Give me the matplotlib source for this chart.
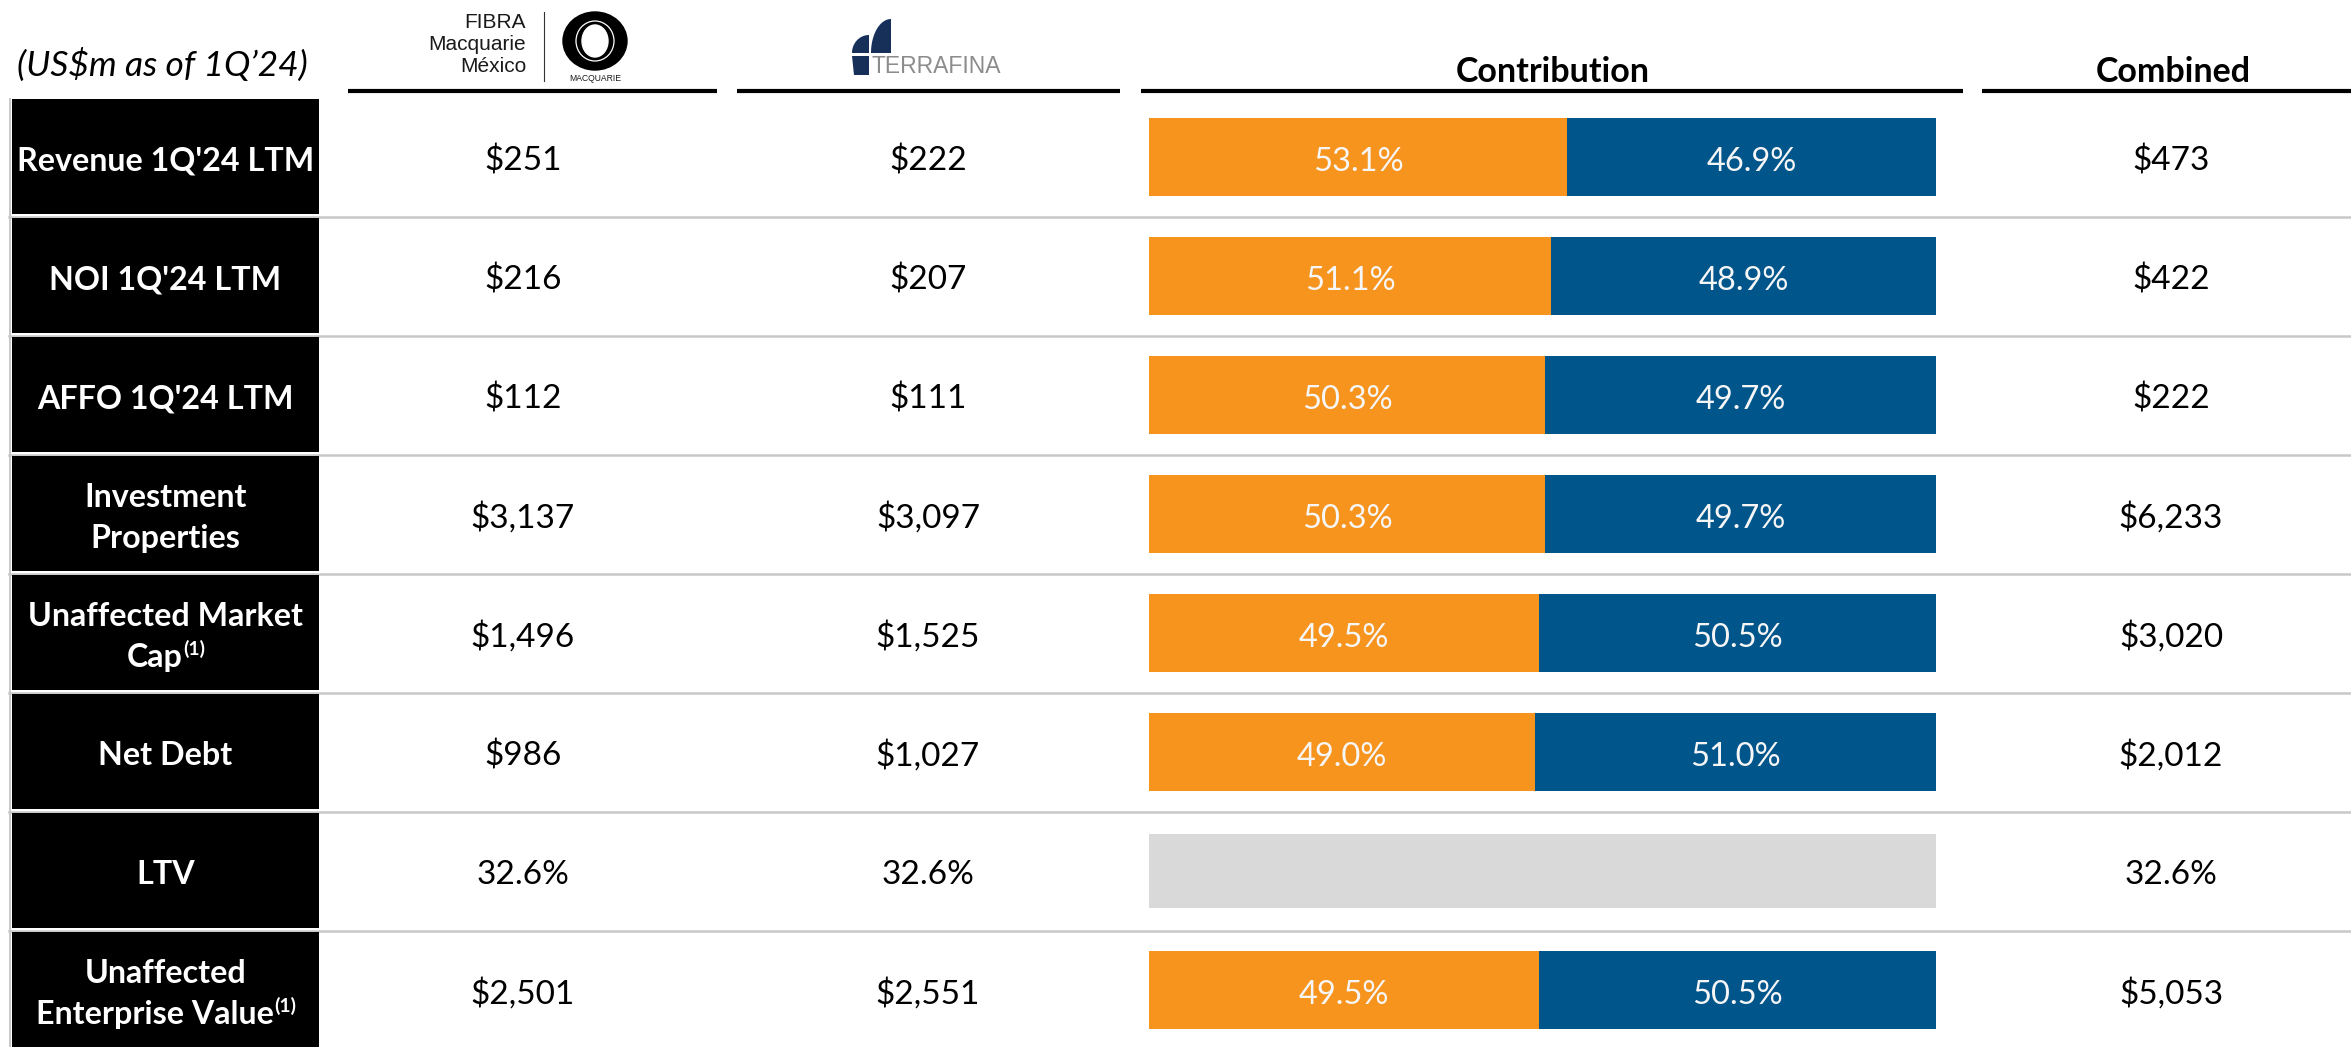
import matplotlib
matplotlib.use("Agg")
import matplotlib.pyplot as plt
from matplotlib import font_manager, transforms
from matplotlib.patches import Rectangle, Polygon, Ellipse
import numpy as np

# ---------------- data ----------------
metrics = ["Revenue 1Q'24 LTM", "NOI 1Q'24 LTM", "AFFO 1Q'24 LTM",
           "Investment\nProperties", "Unaffected Market\nCap", "Net Debt",
           "LTV", "Unaffected\nEnterprise Value"]
footnote = [False, False, False, False, True, False, False, True]
fibra_values = ["$251", "$216", "$112", "$3,137", "$1,496", "$986", "32.6%", "$2,501"]
terrafina_values = ["$222", "$207", "$111", "$3,097", "$1,525", "$1,027", "32.6%", "$2,551"]
combined_values = ["$473", "$422", "$222", "$6,233", "$3,020", "$2,012", "32.6%", "$5,053"]
fibra_share = [53.1, 51.1, 50.3, 50.3, 49.5, 49.0, None, 49.5]
terrafina_share = [46.9, 48.9, 49.7, 49.7, 50.5, 51.0, None, 50.5]
title_text = "(US$m as of 1Q\u201924)"
col_headers = ["Contribution", "Combined"]

# ---------------- style ----------------
available = {f.name for f in font_manager.fontManager.ttflist}
BODY = "Lato" if "Lato" in available else "DejaVu Sans"
NARROW = "Liberation Sans Narrow" if "Liberation Sans Narrow" in available else "Liberation Sans"
LOGO = "Liberation Sans" if "Liberation Sans" in available else "DejaVu Sans"
plt.rcParams["font.family"] = [BODY, "DejaVu Sans"]

ORANGE = "#F7941E"
BLUE = "#00558B"
GRAY_BAR = "#D9D9D9"
SEP = "#C8C8C8"
NAVY = "#17305A"

FS_LABEL = 23.2
FS_VALUE = 24
FS_PCT = 23.5
FS_HEAD = 24.5
FS_TITLE = 25.5


def cap(fs):
    return 0.7165 * fs * 100 / 72


W, H = 2351, 1047
fig = plt.figure(figsize=(W / 100, H / 100), dpi=100)
ax = fig.add_axes([0, 0, 1, 1])
ax.set_xlim(0, W)
ax.set_ylim(H, 0)
ax.axis("off")

ROW_TOP, ROW_H = 99, 119
n = len(metrics)
row_center = [ROW_TOP + ROW_H * (i + 0.5) for i in range(n)]

COL_FIBRA, COL_TERRA, COL_COMB = 523, 928, 2171
LABEL_X0, LABEL_X1 = 12, 319
LABEL_CX = (LABEL_X0 + LABEL_X1) / 2

# header rules
for x0, x1 in [(348, 717), (737, 1120), (1141, 1963), (1982, 2351)]:
    ax.plot([x0, x1], [91, 91], color="black", lw=3.0, solid_capstyle="butt")

ax.text(17, 76, title_text, fontsize=FS_TITLE, style="italic", ha="left", va="baseline")
ax.text(1553, 82, col_headers[0], fontsize=FS_HEAD, weight="bold", ha="center", va="baseline")
ax.text(2173, 82, col_headers[1], fontsize=FS_HEAD, weight="bold", ha="center", va="baseline")

# ---- FIBRA Macquarie logo ----
for txt, yb in [("FIBRA", 28), ("Macquarie", 50), ("México", 72)]:
    ax.text(526, yb, txt, fontsize=15, family=LOGO, color="#1a1a1a",
            ha="right", va="baseline")
ax.plot([544, 544], [12, 81], color="#333333", lw=0.8)
ax.add_patch(Ellipse((595, 41), 64, 58, color="black"))
ax.add_patch(Ellipse((595, 41), 38, 40, fill=False, ec="white", lw=0.9))
ax.add_patch(Ellipse((595, 41), 26, 32, color="white"))
ax.text(595, 81, "MACQUARIE", fontsize=6.2, family=LOGO, ha="center", va="baseline",
        color="#1a1a1a")


# ---- Terrafina logo ----
def quarter_ul(cx, cy, rx, ry):
    t = np.linspace(0, np.pi / 2, 40)
    pts = [(cx, cy)] + [(cx - rx * np.cos(a), cy - ry * np.sin(a)) for a in t]
    return Polygon(pts, closed=True, color=NAVY, lw=0)


ax.add_patch(quarter_ul(891, 53, 20, 34))
ax.add_patch(quarter_ul(869, 53, 17, 18))
ax.add_patch(Polygon([(852, 56), (869, 56), (869, 75), (854, 75)], closed=True, color=NAVY, lw=0))
ax.text(872, 73, "TERRAFINA", fontsize=16.5, family=NARROW, color="#8C8C8C",
        ha="left", va="baseline")

# ---- row separators and label boxes ----
for k in range(1, n):
    y = ROW_TOP + ROW_H * k - 1.5
    ax.plot([9, W], [y, y], color=SEP, lw=1.8, zorder=1)
ax.plot([9.5, 9.5], [ROW_TOP, H], color=SEP, lw=1.4, zorder=1)

for i in range(n):
    top = ROW_TOP + ROW_H * i
    ax.add_patch(Rectangle((LABEL_X0, top), LABEL_X1 - LABEL_X0, ROW_H - 4,
                           color="black", lw=0, zorder=2))

fig.canvas.draw()
renderer = fig.canvas.get_renderer()

MAXW = 298
for i, (lab, fn) in enumerate(zip(metrics, footnote)):
    cy = row_center[i]
    lines = lab.split("\n")
    offs = [0] if len(lines) == 1 else [-20, 21]
    for j, line in enumerate(lines):
        yb = cy + offs[j] + cap(FS_LABEL) / 2
        last = j == len(lines) - 1
        if fn and last:
            t = ax.text(0, yb, line, fontsize=FS_LABEL, weight="bold", color="white",
                        ha="left", va="baseline", zorder=3)
            s = ax.text(0, yb - 12, "(1)", fontsize=14, weight="bold", color="white",
                        ha="left", va="baseline", zorder=3)
            w1 = t.get_window_extent(renderer).width
            w2 = s.get_window_extent(renderer).width
            x0 = LABEL_CX - (w1 + w2) / 2
            t.set_x(x0)
            s.set_x(x0 + w1 + 1)
        else:
            t = ax.text(LABEL_CX, yb, line, fontsize=FS_LABEL, weight="bold", color="white",
                        ha="center", va="baseline", zorder=3)
            w = t.get_window_extent(renderer).width
            if w > MAXW:
                t.set_fontsize(FS_LABEL * MAXW / w)

# ---- value columns ----
for i in range(n):
    yb = row_center[i] + cap(FS_VALUE) / 2
    ax.text(COL_FIBRA, yb, fibra_values[i], fontsize=FS_VALUE, ha="center", va="baseline")
    ax.text(COL_TERRA, yb, terrafina_values[i], fontsize=FS_VALUE, ha="center", va="baseline")
    ax.text(COL_COMB, yb, combined_values[i], fontsize=FS_VALUE, ha="center", va="baseline")

# ---- contribution bars ----
BX0, BX1 = 1149, 1936
bax = fig.add_axes([BX0 / W, 1 - (ROW_TOP + ROW_H * n) / H, (BX1 - BX0) / W, ROW_H * n / H])
bax.set_xlim(0, 100)
bax.set_ylim(n - 0.5, -0.5)
bax.axis("off")
base = transforms.offset_copy(bax.transData, fig=fig, x=0, y=-cap(FS_PCT) / 2 - 2, units="dots")

for i, (a, b) in enumerate(zip(fibra_share, terrafina_share)):
    yc = i - 0.012
    if a is None:
        bax.barh(yc, 100, height=0.615, color=GRAY_BAR, lw=0)
        continue
    bax.barh(yc, a, height=0.655, color=ORANGE, lw=0)
    bax.barh(yc, b, left=a, height=0.655, color=BLUE, lw=0)
    bax.text(a / 2, yc, f"{a:.1f}%", transform=base, fontsize=FS_PCT, color="#F6F6F6",
             ha="center", va="baseline")
    bax.text(a + b / 2, yc, f"{b:.1f}%", transform=base, fontsize=FS_PCT, color="#F6F6F6",
             ha="center", va="baseline")

fig.savefig("out.png", dpi=100)
